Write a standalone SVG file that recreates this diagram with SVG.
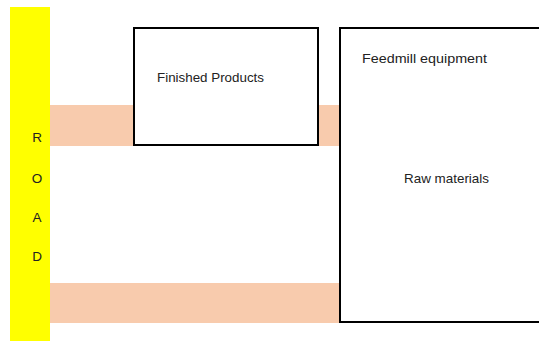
<svg xmlns="http://www.w3.org/2000/svg" width="539" height="341" viewBox="0 0 539 341">
<style>
.band{fill:#f8cbad}
.box{fill:#fff;stroke:#000;stroke-width:2}
.t{font-family:"Liberation Sans",Arial,sans-serif;font-size:13.5px;fill:#222}
</style>
<rect width="539" height="341" fill="#fff"/>
<g id="bands">
<rect class="band" x="49" y="105" width="291" height="41"/>
<rect class="band" x="49" y="283" width="291" height="40"/>
</g>
<g id="road">
<rect x="10" y="7" width="40" height="334" fill="#ffff00"/>
<text class="t" x="37" y="142" text-anchor="middle">R</text>
<text class="t" x="37" y="183" text-anchor="middle">O</text>
<text class="t" x="37" y="222" text-anchor="middle">A</text>
<text class="t" x="37" y="261" text-anchor="middle">D</text>
</g>
<g id="finished">
<rect class="box" x="134" y="28" width="184" height="117"/>
<text class="t" x="157" y="82" textLength="107" lengthAdjust="spacingAndGlyphs">Finished Products</text>
</g>
<g id="feedmill">
<rect class="box" x="340" y="28" width="210" height="294"/>
<text class="t" x="362" y="63" textLength="125" lengthAdjust="spacingAndGlyphs">Feedmill equipment</text>
<text class="t" x="404" y="183" textLength="85" lengthAdjust="spacingAndGlyphs">Raw materials</text>
</g>
<g id="connectors"></g>
</svg>
